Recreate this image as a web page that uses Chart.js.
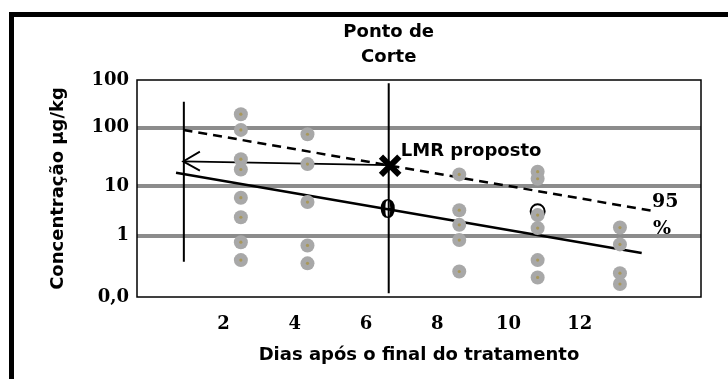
<!DOCTYPE html>
<html>
<head>
<meta charset="utf-8">
<script src="https://cdn.jsdelivr.net/npm/chart.js@4.4.1/dist/chart.umd.min.js"></script>
<style>
  html, body { margin: 0; padding: 0; background: #fff; }
  #wrap { position: relative; width: 728px; height: 379px; overflow: hidden; }
  #frame { position: absolute; left: 9px; top: 12px; width: 800px; height: 500px; border: 5px solid #000; box-sizing: border-box; }
  canvas { position: absolute; left: 0; top: 0; }
</style>
</head>
<body>
<div id="wrap">
  <div id="frame"></div>
  <canvas id="chart" width="728" height="379"></canvas>
</div>
<script>
// eixo x: dias; eixo y: unidades de posição (escala esquemática log)
const xTickValues = [2, 4, 6, 8, 10, 12];
const yTickValues = [0, 1.13, 2.04, 3.12, 4];
const yTickLabels = ['0,0', '1', '10', '100', '100'];

// colunas de amostras (posição x) e concentrações
const sampleColumns = [2.49, 4.36, 8.62, 10.82, 13.13];
const day2Values = [3.37, 3.08, 2.54, 2.35, 1.83, 1.47, 1.01, 0.68];
const day4Values = [3.00, 2.45, 1.75, 0.95, 0.62];
const day8Values = [2.26, 1.60, 1.33, 1.05, 0.47];
const day10Values = [2.31, 2.18, 1.51, 1.27, 0.68, 0.36];
const day12Values = [1.28, 0.97, 0.44, 0.24];

const regressionLine = [{ x: 0.67, y: 2.29 }, { x: 13.74, y: 0.81 }];
const upper95Line = [{ x: 0.88, y: 3.08 }, { x: 14.02, y: 1.59 }];
const arrowShaft = [{ x: 0.87, y: 2.50 }, { x: 6.62, y: 2.43 }];
const arrowHead = [{ x: 1.34, y: 2.68 }, { x: 0.87, y: 2.50 }, { x: 1.34, y: 2.33 }];
const leftMarker = [{ x: 0.89, y: 3.60 }, { x: 0.89, y: 0.65 }];
const cutLine = [{ x: 6.64, y: 3.94 }, { x: 6.64, y: 0.07 }];
const lmrPoint = [{ x: 6.68, y: 2.42 }];
const ringPoint = [{ x: 10.82, y: 1.58 }];

const textLabels = [
    { text: 'LMR proposto', x: 6.98, y: 2.69, font: 'bold 18px "DejaVu Sans"', align: 'left' },
    { text: '95', x: 14.03, y: 1.75, font: 'bold 19px "DejaVu Serif"', align: 'left' },
    { text: '%', x: 14.06, y: 1.25, font: 'bold 19px "DejaVu Serif"', align: 'left' },
    { text: 'θ', x: 6.61, y: 1.58, font: 'bold 24px "DejaVu Serif"', align: 'center' }
];
const titleLines = ['Ponto de', 'Corte'];

const allValues = [day2Values, day4Values, day8Values, day10Values, day12Values];
const samples = [];
allValues.forEach((vals, i) => vals.forEach(v => samples.push({ x: sampleColumns[i], y: v })));

const lineSet = (data, width, dash) => ({
    data: data,
    showLine: true,
    borderColor: '#000',
    borderWidth: width,
    borderDash: dash || [],
    pointRadius: 0,
    fill: false
});

const extras = {
    id: 'extras',
    afterDatasetsDraw(chart) {
        const ctx = chart.ctx;
        const a = chart.chartArea;
        const x = chart.scales.x, y = chart.scales.y;
        ctx.save();
        ctx.strokeStyle = '#000';
        ctx.lineWidth = 1.5;
        ctx.strokeRect(a.left, a.top, a.right - a.left, a.bottom - a.top);
        ctx.fillStyle = '#000';
        ctx.textBaseline = 'middle';
        textLabels.forEach(l => {
            ctx.font = l.font;
            ctx.textAlign = l.align;
            ctx.fillText(l.text, x.getPixelForValue(l.x), y.getPixelForValue(l.y));
        });
        ctx.font = 'bold 18px "DejaVu Sans"';
        ctx.textAlign = 'center';
        const cx = x.getPixelForValue(cutLine[0].x);
        ctx.fillText(titleLines[0], cx, 32);
        ctx.fillText(titleLines[1], cx, 57);
        ctx.restore();
    }
};

new Chart(document.getElementById('chart'), {
    type: 'scatter',
    data: {
        datasets: [
            { data: samples, pointRadius: 1.6, pointBackgroundColor: '#a8975a', pointBorderWidth: 0 },
            { data: samples, pointRadius: 7, pointBackgroundColor: '#a8a8a8', pointBorderWidth: 0 },
            { data: ringPoint, pointRadius: 7, pointBackgroundColor: 'transparent', pointBorderColor: '#000', pointBorderWidth: 2 },
            { data: lmrPoint, pointStyle: 'crossRot', pointRadius: 13, pointBorderColor: '#000', pointBorderWidth: 6 },
            lineSet(cutLine, 2),
            lineSet(regressionLine, 2.5),
            lineSet(upper95Line, 2.5, [9, 6]),
            lineSet(arrowShaft, 1.8),
            lineSet(arrowHead, 1.8),
            lineSet(leftMarker, 2)
        ]
    },
    options: {
        responsive: false,
        animation: false,
        devicePixelRatio: 1,
        layout: { padding: { left: 44, right: 27, top: 80, bottom: 10 } },
        plugins: { legend: { display: false }, tooltip: { enabled: false } },
        scales: {
            x: {
                type: 'linear',
                min: -0.425,
                max: 15.405,
                afterBuildTicks: s => { s.ticks = xTickValues.map(v => ({ value: v })); },
                afterFit: s => { s.height = 72; },
                grid: { display: false },
                border: { display: false },
                ticks: { color: '#000', padding: 9, font: { family: 'DejaVu Serif', size: 18, weight: 'bold' } },
                title: {
                    display: true,
                    text: 'Dias após o final do tratamento',
                    color: '#000',
                    padding: { top: 0, bottom: 3 },
                    font: { family: 'DejaVu Sans', size: 18, weight: 'bold' }
                }
            },
            y: {
                type: 'linear',
                min: 0,
                max: 4,
                afterBuildTicks: s => { s.ticks = yTickValues.map(v => ({ value: v })); },
                afterFit: s => { s.width = 93; },
                grid: {
                    drawTicks: false,
                    lineWidth: 4,
                    color: c => (c.index === 0 || c.index === yTickValues.length - 1) ? 'transparent' : '#8c8c8c'
                },
                border: { display: false },
                ticks: {
                    color: '#000',
                    padding: 8,
                    font: { family: 'DejaVu Serif', size: 18, weight: 'bold' },
                    callback: (v, i) => yTickLabels[i]
                },
                title: {
                    display: true,
                    text: 'Concentração µg/kg',
                    color: '#000',
                    padding: { top: 4, bottom: 0 },
                    font: { family: 'DejaVu Sans', size: 18, weight: 'bold' }
                }
            }
        }
    },
    plugins: [extras]
});
</script>
</body>
</html>
